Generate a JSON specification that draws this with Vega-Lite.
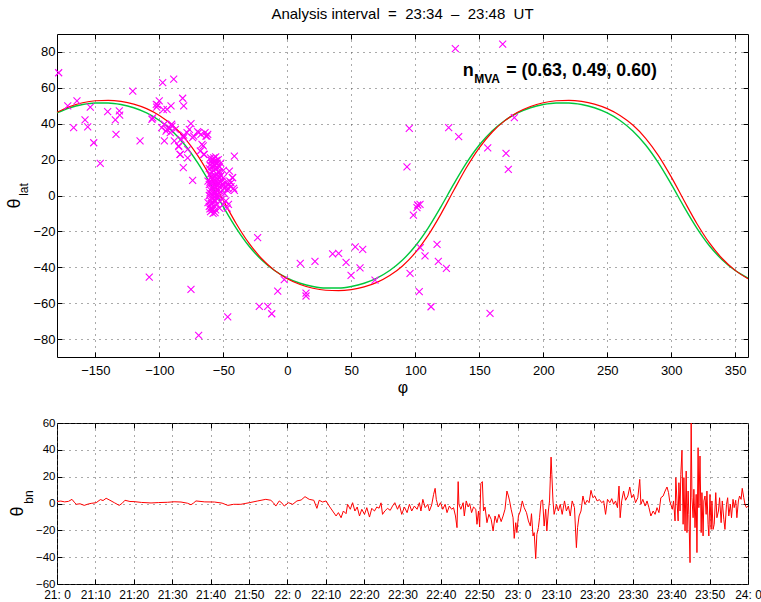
{
  "$schema": "https://vega.github.io/schema/vega-lite/v6.json",
  "background": "white",
  "padding": {"left": 5, "top": 6, "right": 5, "bottom": 0},
  "config": {
    "font": "Liberation Sans",
    "view": {"stroke": "black", "strokeWidth": 1},
    "axis": {
      "domain": false,
      "tickColor": "black",
      "tickSize": -5,
      "labelColor": "black",
      "titleColor": "black",
      "gridColor": "#555555",
      "gridDash": [1, 5],
      "gridWidth": 1,
      "labelFont": "Liberation Sans",
      "titleFont": "Liberation Sans",
      "titleFontWeight": "normal",
      "labelFlush": false,
      "labelOverlap": false
    }
  },
  "datasets": {
    "curves": [
      {"phi": -180, "lat": 46.02, "s": "g"}, {"phi": -170, "lat": 48.90, "s": "g"}, {"phi": -160, "lat": 50.70, "s": "g"}, {"phi": -150, "lat": 51.57, "s": "g"}, {"phi": -140, "lat": 51.57, "s": "g"}, {"phi": -130, "lat": 50.70, "s": "g"}, {"phi": -120, "lat": 48.90, "s": "g"}, {"phi": -110, "lat": 46.02, "s": "g"}, {"phi": -100, "lat": 41.81, "s": "g"}, {"phi": -90, "lat": 35.96, "s": "g"}, {"phi": -80, "lat": 28.13, "s": "g"}, {"phi": -70, "lat": 18.13, "s": "g"}, {"phi": -60, "lat": 6.30, "s": "g"}, {"phi": -50, "lat": -6.30, "s": "g"}, {"phi": -40, "lat": -18.13, "s": "g"}, {"phi": -30, "lat": -28.13, "s": "g"}, {"phi": -20, "lat": -35.96, "s": "g"}, {"phi": -10, "lat": -41.81, "s": "g"}, {"phi": 0, "lat": -46.02, "s": "g"}, {"phi": 10, "lat": -48.90, "s": "g"}, {"phi": 20, "lat": -50.70, "s": "g"}, {"phi": 30, "lat": -51.57, "s": "g"}, {"phi": 40, "lat": -51.57, "s": "g"}, {"phi": 50, "lat": -50.70, "s": "g"}, {"phi": 60, "lat": -48.90, "s": "g"}, {"phi": 70, "lat": -46.02, "s": "g"}, {"phi": 80, "lat": -41.81, "s": "g"}, {"phi": 90, "lat": -35.96, "s": "g"}, {"phi": 100, "lat": -28.13, "s": "g"}, {"phi": 110, "lat": -18.13, "s": "g"}, {"phi": 120, "lat": -6.30, "s": "g"}, {"phi": 130, "lat": 6.30, "s": "g"}, {"phi": 140, "lat": 18.13, "s": "g"}, {"phi": 150, "lat": 28.13, "s": "g"}, {"phi": 160, "lat": 35.96, "s": "g"}, {"phi": 170, "lat": 41.81, "s": "g"}, {"phi": 180, "lat": 46.02, "s": "g"}, {"phi": 190, "lat": 48.90, "s": "g"}, {"phi": 200, "lat": 50.70, "s": "g"}, {"phi": 210, "lat": 51.57, "s": "g"}, {"phi": 220, "lat": 51.57, "s": "g"}, {"phi": 230, "lat": 50.70, "s": "g"}, {"phi": 240, "lat": 48.90, "s": "g"}, {"phi": 250, "lat": 46.02, "s": "g"}, {"phi": 260, "lat": 41.81, "s": "g"}, {"phi": 270, "lat": 35.96, "s": "g"}, {"phi": 280, "lat": 28.13, "s": "g"}, {"phi": 290, "lat": 18.13, "s": "g"}, {"phi": 300, "lat": 6.30, "s": "g"}, {"phi": 310, "lat": -6.30, "s": "g"}, {"phi": 320, "lat": -18.13, "s": "g"}, {"phi": 330, "lat": -28.13, "s": "g"}, {"phi": 340, "lat": -35.96, "s": "g"}, {"phi": 350, "lat": -41.81, "s": "g"}, {"phi": 360, "lat": -46.02, "s": "g"},
      {"phi": -180, "lat": 46.38, "s": "r"}, {"phi": -170, "lat": 49.62, "s": "r"}, {"phi": -160, "lat": 51.69, "s": "r"}, {"phi": -150, "lat": 52.80, "s": "r"}, {"phi": -140, "lat": 53.04, "s": "r"}, {"phi": -130, "lat": 52.44, "s": "r"}, {"phi": -120, "lat": 50.94, "s": "r"}, {"phi": -110, "lat": 48.41, "s": "r"}, {"phi": -100, "lat": 44.62, "s": "r"}, {"phi": -90, "lat": 39.25, "s": "r"}, {"phi": -80, "lat": 31.89, "s": "r"}, {"phi": -70, "lat": 22.24, "s": "r"}, {"phi": -60, "lat": 10.36, "s": "r"}, {"phi": -50, "lat": -2.79, "s": "r"}, {"phi": -40, "lat": -15.58, "s": "r"}, {"phi": -30, "lat": -26.58, "s": "r"}, {"phi": -20, "lat": -35.25, "s": "r"}, {"phi": -10, "lat": -41.72, "s": "r"}, {"phi": 0, "lat": -46.38, "s": "r"}, {"phi": 10, "lat": -49.62, "s": "r"}, {"phi": 20, "lat": -51.69, "s": "r"}, {"phi": 30, "lat": -52.80, "s": "r"}, {"phi": 40, "lat": -53.04, "s": "r"}, {"phi": 50, "lat": -52.44, "s": "r"}, {"phi": 60, "lat": -50.94, "s": "r"}, {"phi": 70, "lat": -48.41, "s": "r"}, {"phi": 80, "lat": -44.62, "s": "r"}, {"phi": 90, "lat": -39.25, "s": "r"}, {"phi": 100, "lat": -31.89, "s": "r"}, {"phi": 110, "lat": -22.24, "s": "r"}, {"phi": 120, "lat": -10.36, "s": "r"}, {"phi": 130, "lat": 2.79, "s": "r"}, {"phi": 140, "lat": 15.58, "s": "r"}, {"phi": 150, "lat": 26.58, "s": "r"}, {"phi": 160, "lat": 35.25, "s": "r"}, {"phi": 170, "lat": 41.72, "s": "r"}, {"phi": 180, "lat": 46.38, "s": "r"}, {"phi": 190, "lat": 49.62, "s": "r"}, {"phi": 200, "lat": 51.69, "s": "r"}, {"phi": 210, "lat": 52.80, "s": "r"}, {"phi": 220, "lat": 53.04, "s": "r"}, {"phi": 230, "lat": 52.44, "s": "r"}, {"phi": 240, "lat": 50.94, "s": "r"}, {"phi": 250, "lat": 48.41, "s": "r"}, {"phi": 260, "lat": 44.62, "s": "r"}, {"phi": 270, "lat": 39.25, "s": "r"}, {"phi": 280, "lat": 31.89, "s": "r"}, {"phi": 290, "lat": 22.24, "s": "r"}, {"phi": 300, "lat": 10.36, "s": "r"}, {"phi": 310, "lat": -2.79, "s": "r"}, {"phi": 320, "lat": -15.58, "s": "r"}, {"phi": 330, "lat": -26.58, "s": "r"}, {"phi": 340, "lat": -35.25, "s": "r"}, {"phi": 350, "lat": -41.72, "s": "r"}, {"phi": 360, "lat": -46.38, "s": "r"}
    ],
    "pts": [
      {"phi": -178.7, "lat": 68.4}, {"phi": -171.6, "lat": 49.9}, {"phi": -164.4, "lat": 52.7}, {"phi": -167, "lat": 37.8}, {"phi": -158.1, "lat": 42.1}, {"phi": -156, "lat": 38.3}, {"phi": -154, "lat": 49.3}, {"phi": -151.3, "lat": 29.4}, {"phi": -146.2, "lat": 17.9}, {"phi": -140.4, "lat": 46.7}, {"phi": -134.4, "lat": 42.1}, {"phi": -131.3, "lat": 47.1}, {"phi": -131, "lat": 44.8}, {"phi": -133.9, "lat": 34.1}, {"phi": -120.8, "lat": 58.2}, {"phi": -115.1, "lat": 30.4}, {"phi": -105.2, "lat": 43.3}, {"phi": -102.1, "lat": 49.3}, {"phi": -100.1, "lat": 52.7}, {"phi": -97.4, "lat": 62.9}, {"phi": -101.3, "lat": 50.4}, {"phi": -96.9, "lat": 47.8}, {"phi": -94, "lat": 48.0}, {"phi": -90.9, "lat": 50.0}, {"phi": -88.8, "lat": 64.9}, {"phi": -81.8, "lat": 54.2}, {"phi": -81, "lat": 50.0}, {"phi": -96.1, "lat": 39.7}, {"phi": -98.2, "lat": 37.8}, {"phi": -94.8, "lat": 35.9}, {"phi": -96.1, "lat": 30.4}, {"phi": -91.5, "lat": 37.4}, {"phi": -90.4, "lat": 39.7}, {"phi": -88.3, "lat": 30.4}, {"phi": -84.9, "lat": 27.2}, {"phi": -83.1, "lat": 31.3}, {"phi": -81, "lat": 33.7}, {"phi": -83.9, "lat": 22.9}, {"phi": -81.3, "lat": 15.5}, {"phi": -78.4, "lat": 35.0}, {"phi": -76.6, "lat": 36.9}, {"phi": -75.3, "lat": 40.0}, {"phi": -74, "lat": 32.2}, {"phi": -77.9, "lat": 21.0}, {"phi": -74, "lat": 8.4}, {"phi": -70.1, "lat": 35.6}, {"phi": -67.5, "lat": 34.1}, {"phi": -64.3, "lat": 35.0}, {"phi": -63.6, "lat": 33.1}, {"phi": -66.7, "lat": 28.5}, {"phi": -65.4, "lat": 22.9}, {"phi": -62.2, "lat": 34.1}, {"phi": -41.4, "lat": 22.0}, {"phi": -45.3, "lat": 13.6}, {"phi": -42.7, "lat": 9.9}, {"phi": -41.4, "lat": 2.9}, {"phi": -64.9, "lat": 22.9}, {"phi": -65.7, "lat": 27.6}, {"phi": -77.9, "lat": 25.7}, {"phi": -102.4, "lat": 50.8}, {"phi": -94.0, "lat": 36.9}, {"phi": -90.1, "lat": 38.7}, {"phi": -91.5, "lat": 35.0}, {"phi": -87.5, "lat": 36.9}, {"phi": -84.9, "lat": 27.6}, {"phi": -83.6, "lat": 22.9}, {"phi": -81.0, "lat": 32.2}, {"phi": -73.2, "lat": 33.1}, {"phi": -69.3, "lat": 35.0}, {"phi": -62.8, "lat": 33.1}, {"phi": -68, "lat": 24.8}, {"phi": -105.8, "lat": 42.5},
      {"phi": -60, "lat": 21}, {"phi": -58, "lat": 20}, {"phi": -56, "lat": 21.5}, {"phi": -54, "lat": 20}, {"phi": -59, "lat": 18}, {"phi": -57, "lat": 17}, {"phi": -55, "lat": 18}, {"phi": -53, "lat": 16}, {"phi": -61, "lat": 15}, {"phi": -58, "lat": 14}, {"phi": -56, "lat": 15}, {"phi": -54, "lat": 13}, {"phi": -60, "lat": 12}, {"phi": -57, "lat": 11}, {"phi": -55, "lat": 12}, {"phi": -52, "lat": 11}, {"phi": -59, "lat": 9}, {"phi": -56, "lat": 8}, {"phi": -54, "lat": 9}, {"phi": -51, "lat": 8}, {"phi": -61, "lat": 6}, {"phi": -58, "lat": 5}, {"phi": -55, "lat": 6}, {"phi": -53, "lat": 5}, {"phi": -60, "lat": 3}, {"phi": -57, "lat": 2}, {"phi": -55, "lat": 3}, {"phi": -52, "lat": 2}, {"phi": -61, "lat": 0}, {"phi": -59, "lat": -1}, {"phi": -56, "lat": 0}, {"phi": -54, "lat": -1}, {"phi": -60, "lat": -3}, {"phi": -58, "lat": -4}, {"phi": -56, "lat": -3}, {"phi": -61, "lat": -6}, {"phi": -59, "lat": -7}, {"phi": -57, "lat": -6}, {"phi": -55, "lat": -5}, {"phi": -60, "lat": -9}, {"phi": -58, "lat": -10}, {"phi": -56, "lat": -8}, {"phi": -62, "lat": -4}, {"phi": -62, "lat": 8}, {"phi": -50, "lat": 10}, {"phi": -48, "lat": 7}, {"phi": -46, "lat": 6}, {"phi": -44, "lat": 5}, {"phi": -42, "lat": 4}, {"phi": -49, "lat": 4}, {"phi": -47, "lat": 3}, {"phi": -45, "lat": 8}, {"phi": -50, "lat": 14}, {"phi": -52, "lat": 18}, {"phi": -48, "lat": -3}, {"phi": -46, "lat": -5}, {"phi": -50, "lat": -5}, {"phi": -47, "lat": -7}, {"phi": -51, "lat": -2}, {"phi": -49, "lat": 1}, {"phi": -53, "lat": -7}, {"phi": -44, "lat": 7}, {"phi": -43, "lat": 10}, {"phi": -57, "lat": 19}, {"phi": -59, "lat": 13}, {"phi": -53, "lat": 13},
      {"phi": -59.5, "lat": 19.5}, {"phi": -57.5, "lat": 21}, {"phi": -55.5, "lat": 19.5}, {"phi": -60.5, "lat": 17}, {"phi": -58.5, "lat": 16}, {"phi": -56.5, "lat": 16.5}, {"phi": -54.5, "lat": 15.5}, {"phi": -59.5, "lat": 10.5}, {"phi": -57.5, "lat": 9.5}, {"phi": -55.5, "lat": 10}, {"phi": -53.5, "lat": 10.5}, {"phi": -60.5, "lat": 7.5}, {"phi": -58.5, "lat": 7}, {"phi": -56.5, "lat": 6.5}, {"phi": -54.5, "lat": 7}, {"phi": -52.5, "lat": 7.5}, {"phi": -59.5, "lat": 4}, {"phi": -57.5, "lat": 3.5}, {"phi": -55.5, "lat": 4.5}, {"phi": -53.5, "lat": 3}, {"phi": -60.5, "lat": 1.5}, {"phi": -58.5, "lat": 0.5}, {"phi": -56.5, "lat": 1.5}, {"phi": -54.5, "lat": 0.5}, {"phi": -59.5, "lat": -4.5}, {"phi": -57.5, "lat": -2.5}, {"phi": -55.5, "lat": -1.5}, {"phi": -58.5, "lat": -8}, {"phi": -56.5, "lat": -9.5}, {"phi": -60.5, "lat": -7.5}, {"phi": -50.5, "lat": 6}, {"phi": -48.5, "lat": 5}, {"phi": -46.5, "lat": 4}, {"phi": -51.5, "lat": 5.5},
      {"phi": -23.2, "lat": -23.5}, {"phi": -107.9, "lat": -45.5}, {"phi": -75.3, "lat": -52.3}, {"phi": -69.3, "lat": -77.9}, {"phi": -46.6, "lat": -67.6}, {"phi": -21.9, "lat": -61.8}, {"phi": -15.3, "lat": -61.8}, {"phi": -12.2, "lat": -65.9}, {"phi": -7.5, "lat": -53.3}, {"phi": -2.4, "lat": -46.9}, {"phi": 10.1, "lat": -37.8}, {"phi": 14.6, "lat": -54.4}, {"phi": 14.6, "lat": -56.0}, {"phi": 21.6, "lat": -36.7}, {"phi": 35.4, "lat": -32.5}, {"phi": 40.1, "lat": -32.3}, {"phi": 45.9, "lat": -37.3}, {"phi": 49.8, "lat": -44.5}, {"phi": 53.1, "lat": -28.6}, {"phi": 58.9, "lat": -30.0}, {"phi": 56.8, "lat": -40.3}, {"phi": 68.5, "lat": -47.1},
      {"phi": 101.9, "lat": -5.3}, {"phi": 103.7, "lat": -4.9}, {"phi": 101.3, "lat": -6.8}, {"phi": 98.5, "lat": -10.9}, {"phi": 103.9, "lat": -29.1}, {"phi": 107.6, "lat": -33.7}, {"phi": 117.0, "lat": -27.2}, {"phi": 118.0, "lat": -36.7}, {"phi": 124.3, "lat": -40.6}, {"phi": 95.9, "lat": -43.4}, {"phi": 103.1, "lat": -53.6}, {"phi": 112.3, "lat": -62.0}, {"phi": 158.4, "lat": -65.7}, {"phi": 95.3, "lat": 37.4}, {"phi": 126.1, "lat": 37.8}, {"phi": 133.9, "lat": 32.8}, {"phi": 156.6, "lat": 26.6}, {"phi": 170.9, "lat": 23.5}, {"phi": 172.7, "lat": 14.6}, {"phi": 93.5, "lat": 16.0}, {"phi": 131.3, "lat": 81.8}, {"phi": 168.3, "lat": 84.3}, {"phi": 177.4, "lat": 43.4}
    ],
    "ts": [
      {"t": 1260, "v": 1.5}, {"t": 1261, "v": 1.8}, {"t": 1262, "v": 1.2}, {"t": 1263, "v": 1.6}, {"t": 1263.9, "v": 3.1}, {"t": 1264.5, "v": 1.0}, {"t": 1265, "v": -0.6}, {"t": 1266, "v": -0.2}, {"t": 1267.1, "v": -1.4}, {"t": 1268, "v": -0.5}, {"t": 1268.9, "v": 0.1}, {"t": 1270.2, "v": 0.6}, {"t": 1271.3, "v": 2.9}, {"t": 1272, "v": 2.2}, {"t": 1272.8, "v": 3.9}, {"t": 1273.8, "v": 2.4}, {"t": 1275, "v": 0.5}, {"t": 1276.2, "v": -1.4}, {"t": 1277, "v": 0.2}, {"t": 1277.7, "v": 2.4}, {"t": 1279, "v": 1.5}, {"t": 1280.1, "v": 1.4}, {"t": 1282, "v": 0.8}, {"t": 1284.5, "v": 0.4}, {"t": 1286.5, "v": 0.7}, {"t": 1288.8, "v": 0.9}, {"t": 1290.5, "v": 1.3}, {"t": 1292.3, "v": 1.1}, {"t": 1294, "v": 0.2}, {"t": 1294.9, "v": -0.9}, {"t": 1295.5, "v": 0.2}, {"t": 1296.2, "v": 1.9}, {"t": 1298.5, "v": 1.2}, {"t": 1301, "v": 1.1}, {"t": 1303, "v": 0.3}, {"t": 1304.5, "v": -1.4}, {"t": 1306, "v": -0.6}, {"t": 1307.9, "v": -0.6}, {"t": 1309, "v": 0.0}, {"t": 1310.1, "v": 0.6}, {"t": 1312.3, "v": 1.9}, {"t": 1314.4, "v": 3.1}, {"t": 1315.7, "v": 2.4}, {"t": 1316.4, "v": 0.5}, {"t": 1317, "v": -1.9}, {"t": 1317.9, "v": 1.9}, {"t": 1318.6, "v": 0.3}, {"t": 1319.2, "v": -1.9}, {"t": 1320.3, "v": 0.6}, {"t": 1321.4, "v": -0.6}, {"t": 1322.5, "v": 1.9}, {"t": 1323.6, "v": 2.6}, {"t": 1324.6, "v": 5.1}, {"t": 1325.7, "v": 3.1}, {"t": 1326.9, "v": 2.4}, {"t": 1327.7, "v": -3.6}, {"t": 1328.3, "v": 2.4}, {"t": 1329.2, "v": 1.1}, {"t": 1330.1, "v": 1.9}, {"t": 1330.9, "v": -1.9}, {"t": 1331.8, "v": -5.6}, {"t": 1332.7, "v": -9.3}, {"t": 1333.3, "v": -6.8}, {"t": 1334, "v": -10.6}, {"t": 1334.6, "v": -5.6}, {"t": 1335.3, "v": -7.6}, {"t": 1335.7, "v": -0.6}, {"t": 1336.4, "v": -4.3}, {"t": 1337, "v": 0.6}, {"t": 1337.6, "v": -5.6}, {"t": 1338.2, "v": -2.6}, {"t": 1338.8, "v": -9.3}, {"t": 1339.4, "v": -4.3}, {"t": 1340.1, "v": -8.1}, {"t": 1340.7, "v": -3.1}, {"t": 1341.4, "v": -10.1}, {"t": 1342, "v": -3.6}, {"t": 1342.7, "v": -5.6}, {"t": 1343.3, "v": -2.6}, {"t": 1343.9, "v": -3.5},
      {"t": 1344.4, "v": 0.5}, {"t": 1344.8, "v": -8.1}, {"t": 1345.4, "v": -5.6}, {"t": 1346.1, "v": -3.6}, {"t": 1346.8, "v": -5.1}, {"t": 1347.4, "v": -1.9}, {"t": 1348.0, "v": 0.6}, {"t": 1348.7, "v": -4.3}, {"t": 1349.2, "v": -1.1}, {"t": 1349.8, "v": -8.1}, {"t": 1350.5, "v": -2.6}, {"t": 1351.2, "v": -6.8}, {"t": 1351.8, "v": -0.6}, {"t": 1352.4, "v": -5.6}, {"t": 1353.1, "v": -1.9}, {"t": 1353.8, "v": -4.3}, {"t": 1354.4, "v": 0.6}, {"t": 1354.8, "v": -5.6}, {"t": 1355.3, "v": 3.1}, {"t": 1355.9, "v": -3.1}, {"t": 1356.6, "v": -0.6}, {"t": 1357.0, "v": -5.6}, {"t": 1357.6, "v": -1.1}, {"t": 1358.1, "v": 6.8}, {"t": 1358.5, "v": 11.3}, {"t": 1358.8, "v": 3.1}, {"t": 1359.3, "v": -2.6}, {"t": 1359.9, "v": 0.6}, {"t": 1360.5, "v": -4.3}, {"t": 1361.1, "v": -0.6}, {"t": 1361.6, "v": -6.8}, {"t": 1362.2, "v": -1.9}, {"t": 1362.8, "v": -4.3}, {"t": 1363.3, "v": -3.1}, {"t": 1363.8, "v": -9.3}, {"t": 1364.2, "v": -18}, {"t": 1364.5, "v": 16.3}, {"t": 1364.7, "v": -0.6}, {"t": 1365.2, "v": -4.3}, {"t": 1365.8, "v": 0.6}, {"t": 1366.1, "v": -9.3}, {"t": 1366.6, "v": 1.9}, {"t": 1367.1, "v": -2.6}, {"t": 1367.5, "v": -0.1}, {"t": 1368.0, "v": -6.8}, {"t": 1368.5, "v": -2.6}, {"t": 1369.1, "v": -4.3}, {"t": 1369.4, "v": -15.5}, {"t": 1369.8, "v": -5.6}, {"t": 1370.1, "v": -17.5}, {"t": 1370.4, "v": 14.8}, {"t": 1370.8, "v": 16.3}, {"t": 1371.1, "v": -5.6}, {"t": 1371.5, "v": -2.6}, {"t": 1372.0, "v": -14.3}, {"t": 1372.5, "v": -8.1}, {"t": 1373.1, "v": -11.8}, {"t": 1373.6, "v": -20.5}, {"t": 1374.1, "v": -9.3}, {"t": 1374.6, "v": -14.3}, {"t": 1375.1, "v": -8.1}, {"t": 1375.7, "v": -13.5}, {"t": 1376.2, "v": -9.3}, {"t": 1376.7, "v": -4.3}, {"t": 1377.2, "v": 9.3}, {"t": 1377.6, "v": 5.6}, {"t": 1377.9, "v": 1.9}, {"t": 1378.3, "v": -4.3}, {"t": 1378.8, "v": -10.6}, {"t": 1379.1, "v": -26}, {"t": 1379.5, "v": -14.3}, {"t": 1379.8, "v": -21.7}, {"t": 1380.2, "v": -9.3}, {"t": 1380.7, "v": -5.6}, {"t": 1381.2, "v": 1.9}, {"t": 1381.7, "v": -3.1}, {"t": 1382.3, "v": -6.8}, {"t": 1382.8, "v": -13}, {"t": 1383.3, "v": -16.8}, {"t": 1383.6, "v": -7.6}, {"t": 1384.0, "v": -24.2}, {"t": 1384.3, "v": -21.7}, {"t": 1384.7, "v": -41.1}, {"t": 1385.0, "v": -23}, {"t": 1385.4, "v": -18}, {"t": 1385.7, "v": -10.6}, {"t": 1386.1, "v": 1.9}, {"t": 1386.5, "v": 2.6}, {"t": 1386.9, "v": -16.8}, {"t": 1387.3, "v": -4.3}, {"t": 1387.6, "v": -20.5}, {"t": 1388.0, "v": -5.6}, {"t": 1388.3, "v": 1.9}, {"t": 1388.7, "v": 34.6}, {"t": 1388.9, "v": 21.7}, {"t": 1389.2, "v": 1.9}, {"t": 1389.5, "v": -8.1}, {"t": 1390.1, "v": -0.6}, {"t": 1390.6, "v": -5.6}, {"t": 1391.1, "v": -0.6}, {"t": 1391.6, "v": -8.1}, {"t": 1392.2, "v": 1.9}, {"t": 1392.7, "v": -5.6}, {"t": 1393.2, "v": -1.9}, {"t": 1393.7, "v": -9.3}, {"t": 1394.2, "v": 1.9}, {"t": 1394.8, "v": -3.1}, {"t": 1395.3, "v": -32.9}, {"t": 1395.6, "v": -18}, {"t": 1396.0, "v": -9.3}, {"t": 1396.5, "v": -5.6}, {"t": 1397.0, "v": 5.6}, {"t": 1397.5, "v": -0.6}, {"t": 1398.1, "v": 2.4}, {"t": 1398.6, "v": 0.6}, {"t": 1399.1, "v": 9.8}, {"t": 1399.6, "v": 4.3}, {"t": 1400.1, "v": 5.6}, {"t": 1400.7, "v": 1.9}, {"t": 1401.3, "v": 2.9}, {"t": 1401.9, "v": 0.6}, {"t": 1402.4, "v": 1.9}, {"t": 1402.9, "v": -8.1}, {"t": 1403.4, "v": 3.1}, {"t": 1404.0, "v": 0.6}, {"t": 1404.5, "v": 3.6}, {"t": 1405.0, "v": -0.6}, {"t": 1405.5, "v": 1.9}, {"t": 1406.0, "v": -3.1}, {"t": 1406.4, "v": 13}, {"t": 1406.7, "v": -10.6}, {"t": 1407.1, "v": 1.9}, {"t": 1407.6, "v": 9.3}, {"t": 1408.1, "v": 2.4}, {"t": 1408.7, "v": 5.6}, {"t": 1409.2, "v": 12.3}, {"t": 1409.7, "v": 4.3}, {"t": 1410.2, "v": 6.8}, {"t": 1410.7, "v": 0.6}, {"t": 1411.3, "v": 4.3}, {"t": 1411.8, "v": 18}, {"t": 1412.1, "v": -0.6}, {"t": 1412.6, "v": 3.1}, {"t": 1413.2, "v": -1.9}, {"t": 1413.7, "v": 1.9}, {"t": 1414.2, "v": -3.1}, {"t": 1414.7, "v": -9.3}, {"t": 1415.3, "v": -5.6}, {"t": 1415.8, "v": -8.1}, {"t": 1416.3, "v": -3.1}, {"t": 1416.8, "v": -6.8}, {"t": 1417.3, "v": 4.3}, {"t": 1417.9, "v": 5.6}, {"t": 1418.4, "v": 9.3}, {"t": 1418.9, "v": 12.3}, {"t": 1419.3, "v": 8.1}, {"t": 1419.6, "v": 1.9}, {"t": 1419.9, "v": -0.6}, {"t": 1420.3, "v": -4.3}, {"t": 1420.6, "v": 1.9}, {"t": 1421.0, "v": -13}, {"t": 1421.2, "v": 19.3}, {"t": 1421.5, "v": 1.9}, {"t": 1421.8, "v": -13}, {"t": 1422.0, "v": 15.5}, {"t": 1422.3, "v": -5.6}, {"t": 1422.5, "v": 21.7}, {"t": 1422.8, "v": 39.6}, {"t": 1423.1, "v": -15.5}, {"t": 1423.3, "v": 19.3}, {"t": 1423.6, "v": -20.5}, {"t": 1423.9, "v": 24.2}, {"t": 1424.1, "v": -21.7}, {"t": 1424.4, "v": 9.3}, {"t": 1424.6, "v": -8.1}, {"t": 1424.9, "v": -44.1}, {"t": 1425.2, "v": 60}, {"t": 1425.4, "v": 4.3}, {"t": 1425.7, "v": -10.6}, {"t": 1425.9, "v": 10.6}, {"t": 1426.2, "v": -18}, {"t": 1426.5, "v": 6.8}, {"t": 1426.7, "v": -36.6}, {"t": 1427.0, "v": 41.6}, {"t": 1427.2, "v": -3.1}, {"t": 1427.5, "v": 35.4}, {"t": 1427.8, "v": -21.7}, {"t": 1428.0, "v": 8.1}, {"t": 1428.3, "v": -24.2}, {"t": 1428.5, "v": 1.9}, {"t": 1428.8, "v": 5.6}, {"t": 1429.1, "v": -8.1}, {"t": 1429.3, "v": 9.3}, {"t": 1429.6, "v": -15.5}, {"t": 1429.8, "v": -24.2}, {"t": 1430.1, "v": 6.8}, {"t": 1430.4, "v": -19.3}, {"t": 1430.6, "v": 1.9}, {"t": 1430.9, "v": -19.3}, {"t": 1431.2, "v": -15.5}, {"t": 1431.6, "v": 8.1}, {"t": 1431.9, "v": -10.6}, {"t": 1432.3, "v": -5.6}, {"t": 1432.6, "v": 4.3}, {"t": 1433.0, "v": -14.3}, {"t": 1433.3, "v": 1.9}, {"t": 1433.7, "v": -11.8}, {"t": 1434.0, "v": -19.3}, {"t": 1434.4, "v": -0.6}, {"t": 1434.7, "v": 4.3}, {"t": 1435.0, "v": -9.3}, {"t": 1435.4, "v": -0.6}, {"t": 1435.7, "v": -10.6}, {"t": 1436.1, "v": 3.1}, {"t": 1436.4, "v": -3.1}, {"t": 1436.8, "v": 2.4}, {"t": 1437.1, "v": -10.6}, {"t": 1437.5, "v": 1.9}, {"t": 1437.8, "v": 5.6}, {"t": 1438.2, "v": 3.1}, {"t": 1438.5, "v": 11.3}, {"t": 1438.9, "v": 4.3}, {"t": 1439.2, "v": -0.6}, {"t": 1439.6, "v": -3.1}, {"t": 1440.0, "v": -1.9}
    ]
  },
  "bounds": "flush",
  "spacing": 66,
  "vconcat": [
    {
      "width": 691,
      "height": 323,
      "title": {"text": "Analysis interval\u00a0 =\u00a0 23:34\u00a0 \u2013\u00a0 23:48\u00a0 UT", "fontSize": 15, "fontWeight": "normal", "anchor": "middle", "frame": "group", "offset": 0, "baseline": "alphabetic", "color": "black", "font": "Liberation Sans"},
      "resolve": {"axis": {"x": "independent", "y": "independent"}},
      "layer": [
        {
          "data": {"name": "curves"},
          "transform": [{"filter": "datum.s === 'g'"}],
          "mark": {"type": "line", "color": "#00c83c", "strokeWidth": 1.4, "interpolate": "monotone"},
          "encoding": {
            "x": {"field": "phi", "type": "quantitative", "scale": {"domain": [-180, 360], "nice": false, "zero": false},
                  "axis": {"orient": "bottom", "values": [-150, -100, -50, 0, 50, 100, 150, 200, 250, 300, 350], "labelFontSize": 13, "labelPadding": 12, "grid": true, "title": "φ", "titleFontSize": 16, "titlePadding": 2}},
            "y": {"field": "lat", "type": "quantitative", "scale": {"domain": [-90, 90], "nice": false, "zero": false},
                  "axis": {"orient": "left", "values": [-80, -60, -40, -20, 0, 20, 40, 60, 80], "labelFontSize": 13, "labelPadding": 7, "grid": true, "title": "θ", "titleFontSize": 18, "titleX": -42.5, "titleY": 169, "titleAngle": 270, "titleAlign": "center", "titleBaseline": "middle"}}
          }
        },
        {
          "data": {"name": "curves"},
          "transform": [{"filter": "datum.s === 'r'"}],
          "mark": {"type": "line", "color": "#ff0000", "strokeWidth": 1.2, "interpolate": "monotone"},
          "encoding": {
            "x": {"field": "phi", "type": "quantitative", "scale": {"domain": [-180, 360], "nice": false, "zero": false}, "axis": null},
            "y": {"field": "lat", "type": "quantitative", "scale": {"domain": [-90, 90], "nice": false, "zero": false}, "axis": null}
          }
        },
        {
          "data": {"name": "pts"},
          "mark": {"type": "point", "shape": "M-1,-1L1,1M-1,1L1,-1", "filled": false, "stroke": "#ff00ff", "strokeWidth": 1.1, "size": 49, "opacity": 1},
          "encoding": {
            "x": {"field": "phi", "type": "quantitative", "scale": {"domain": [-180, 360], "nice": false, "zero": false}, "axis": null},
            "y": {"field": "lat", "type": "quantitative", "scale": {"domain": [-90, 90], "nice": false, "zero": false}, "axis": null}
          }
        },
        {
          "data": {"values": [{}]},
          "mark": {"type": "text", "text": "n", "fontSize": 18, "fontWeight": "bold", "align": "left", "baseline": "alphabetic", "color": "black"},
          "encoding": {"x": {"datum": 137, "type": "quantitative", "axis": null}, "y": {"datum": 66.6, "type": "quantitative", "axis": null}}
        },
        {
          "data": {"values": [{}]},
          "mark": {"type": "text", "text": "MVA", "fontSize": 12, "fontWeight": "bold", "align": "left", "baseline": "alphabetic", "color": "black"},
          "encoding": {"x": {"datum": 146, "type": "quantitative", "axis": null}, "y": {"datum": 62.5, "type": "quantitative", "axis": null}}
        },
        {
          "data": {"values": [{}]},
          "mark": {"type": "text", "text": "= (0.63, 0.49, 0.60)", "fontSize": 17.8, "fontWeight": "bold", "align": "left", "baseline": "alphabetic", "color": "black"},
          "encoding": {"x": {"datum": 171, "type": "quantitative", "axis": null}, "y": {"datum": 66.6, "type": "quantitative", "axis": null}}
        },
        {
          "data": {"values": [{}]},
          "mark": {"type": "text", "text": "lat", "fontSize": 12, "align": "center", "baseline": "middle", "angle": 270, "dx": 6, "dy": -33, "color": "black"},
          "encoding": {"x": {"datum": -180, "type": "quantitative", "axis": null}, "y": {"datum": 0, "type": "quantitative", "axis": null}}
        },
        {
          "data": {"values": [{}]},
          "mark": {"type": "point", "opacity": 0},
          "encoding": {
            "x": {"datum": 0, "type": "quantitative", "axis": {"orient": "top", "values": [-150, -100, -50, 0, 50, 100, 150, 200, 250, 300, 350], "labels": false, "grid": false, "title": null}},
            "y": {"datum": 0, "type": "quantitative", "axis": {"orient": "right", "values": [-80, -60, -40, -20, 0, 20, 40, 60, 80], "labels": false, "grid": false, "title": null}}
          }
        }
      ]
    },
    {
      "width": 691,
      "height": 161,
      "resolve": {"axis": {"x": "independent", "y": "independent"}},
      "layer": [
        {
          "data": {"name": "ts"},
          "mark": {"type": "line", "color": "#ff0000", "strokeWidth": 1, "clip": true},
          "encoding": {
            "x": {"field": "t", "type": "quantitative", "scale": {"domain": [1260, 1440], "nice": false, "zero": false},
                  "axis": {"orient": "bottom", "values": [1260, 1270, 1280, 1290, 1300, 1310, 1320, 1330, 1340, 1350, 1360, 1370, 1380, 1390, 1400, 1410, 1420, 1430, 1440], "labelExpr": "floor(datum.value / 60) + ':' + (datum.value % 60 == 0 ? ' 0' : toString(datum.value % 60))", "labelFontSize": 12, "labelPadding": 10, "grid": true, "title": null}},
            "y": {"field": "v", "type": "quantitative", "scale": {"domain": [-60, 60], "nice": false, "zero": false},
                  "axis": {"orient": "left", "values": [-60, -40, -20, 0, 20, 40, 60], "labelFontSize": 11.5, "labelPadding": 7, "grid": true, "title": "θ", "titleFontSize": 18, "titleX": -40, "titleY": 88, "titleAngle": 270, "titleAlign": "center", "titleBaseline": "middle"}}
          }
        },
        {
          "data": {"values": [{}]},
          "mark": {"type": "text", "text": "bn", "fontSize": 12, "align": "center", "baseline": "middle", "angle": 270, "dx": 6.5, "dy": -28.5, "color": "black"},
          "encoding": {"x": {"datum": 1260, "type": "quantitative", "axis": null}, "y": {"datum": 0, "type": "quantitative", "axis": null}}
        },
        {
          "data": {"values": [{}]},
          "mark": {"type": "point", "opacity": 0},
          "encoding": {
            "x": {"datum": 1300, "type": "quantitative", "axis": {"orient": "top", "values": [1270, 1280, 1290, 1300, 1310, 1320, 1330, 1340, 1350, 1360, 1370, 1380, 1390, 1400, 1410, 1420, 1430], "labels": false, "grid": false, "title": null}},
            "y": {"datum": 0, "type": "quantitative", "axis": {"orient": "right", "values": [-40, -20, 0, 20, 40], "labels": false, "grid": false, "title": null}}
          }
        }
      ]
    }
  ]
}
